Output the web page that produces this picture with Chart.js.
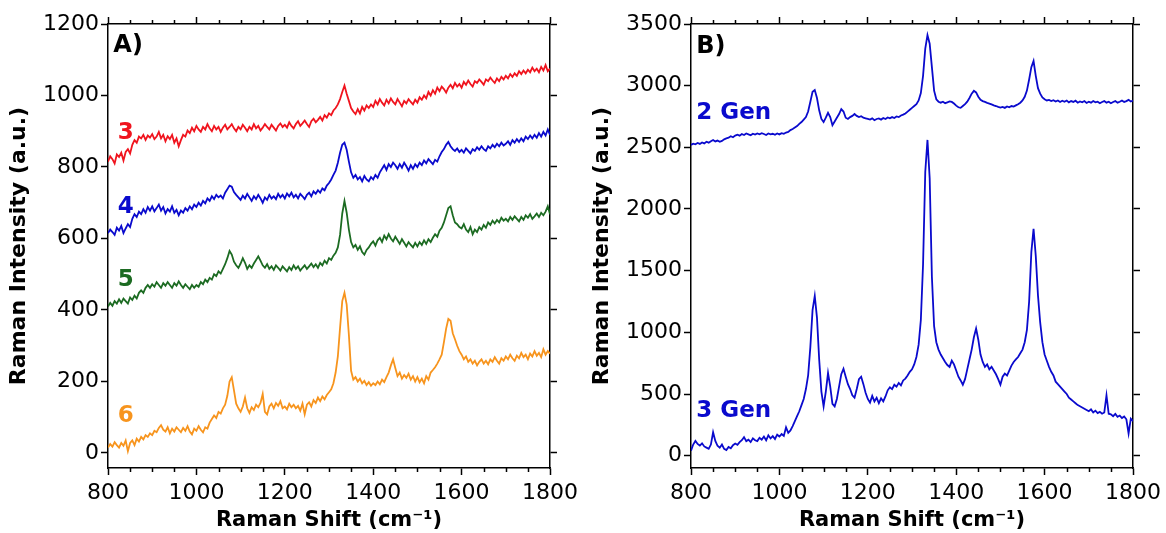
<!DOCTYPE html>
<html>
<head>
<meta charset="utf-8">
<script src="https://cdn.jsdelivr.net/npm/chart.js@4.4.1/dist/chart.umd.min.js"></script>
<style>
  html, body { margin: 0; padding: 0; background: #fff; }
  #wrap { position: relative; width: 1166px; height: 533px; }
  .panel { position: absolute; top: 0; width: 583px; height: 533px; }
  #panelA { left: 0; }
  #panelB { left: 583px; }
</style>
</head>
<body>
<div id="wrap">
  <div class="panel" id="panelA"><canvas id="chartA" width="583" height="533"></canvas></div>
  <div class="panel" id="panelB"><canvas id="chartB" width="583" height="533"></canvas></div>
</div>
<script>
// Raman shift grid, cm-1 (800 .. 1800, every 5)
const shifts = [];
for (let s = 800; s <= 1800; s += 5) shifts.push(s);

// panel A spectra (one row = 100 cm-1)
const spec3 = [
  815,830,822,810,835,828,840,818,842,850,838,862,875,868,885,880,890,876,888,882,
  892,878,885,898,880,890,872,886,878,890,868,880,858,875,890,885,902,895,910,900,
  915,905,898,912,905,920,908,900,915,905,912,898,910,918,905,912,920,908,900,912,
  905,918,910,900,912,905,920,908,915,902,910,920,912,905,918,910,902,915,922,912,
  918,910,925,915,908,920,928,915,922,930,920,912,928,935,925,932,940,930,945,938,
  950,945,958,965,975,990,1010,1028,1005,985,965,955,948,962,950,968,958,972,965,975,
  968,985,975,990,980,972,988,978,992,982,975,990,980,970,985,978,990,982,975,988,
  980,995,988,1000,992,1010,1000,1015,1005,1022,1012,1025,1018,1008,1022,1030,1020,1035,1025,1032,
  1022,1038,1030,1042,1032,1025,1040,1035,1045,1038,1030,1045,1040,1050,1042,1035,1048,1040,1052,1045,
  1055,1048,1060,1052,1062,1055,1068,1060,1070,1062,1072,1065,1078,1068,1075,1065,1080,1070,1085,1068,1075
];
const spec4 = [
  615,625,618,610,630,622,635,615,628,640,632,655,668,660,675,668,682,672,688,678,
  690,676,685,695,678,688,670,682,675,690,672,680,665,678,672,685,678,690,682,695,
  688,700,692,705,698,712,705,718,710,722,715,720,712,728,738,748,745,730,722,715,
  708,720,712,725,715,705,718,710,722,712,700,715,708,722,712,718,710,725,715,722,
  712,726,718,728,715,722,712,725,718,710,722,728,718,732,725,735,728,740,735,748,
  755,765,778,790,812,840,862,868,848,815,785,770,778,765,772,760,775,765,760,772,
  765,778,770,785,795,805,792,808,800,812,805,795,808,798,812,802,790,805,795,808,
  800,812,805,818,810,822,815,808,820,815,830,842,850,862,870,858,850,845,852,842,
  848,840,852,845,838,850,845,855,848,858,850,845,858,852,862,855,865,858,868,860,
  865,872,862,875,868,878,870,880,872,885,878,888,880,890,882,895,885,898,888,905,890
];
const spec5 = [
  410,420,412,425,418,430,420,432,425,418,435,428,440,432,448,455,448,462,470,462,
  472,465,478,470,462,475,468,478,470,462,475,468,480,470,462,472,465,458,470,462,
  470,465,478,472,485,478,490,485,500,495,508,502,515,528,545,565,555,535,525,518,
  530,545,532,515,525,518,530,540,550,538,525,518,528,515,522,512,525,518,510,522,
  515,508,520,512,525,515,522,510,518,525,515,522,530,520,528,518,532,525,538,530,
  545,540,552,560,575,610,670,705,672,625,590,575,582,568,578,562,555,568,575,585,
  592,580,595,602,590,608,598,612,600,592,605,595,585,598,588,578,590,582,575,588,
  578,590,582,595,585,598,590,602,612,605,622,630,645,665,685,690,665,645,640,632,
  628,640,625,618,632,612,625,618,632,625,638,630,645,638,650,642,652,645,658,650,
  655,648,660,652,662,655,648,660,652,665,658,668,655,662,670,660,672,665,675,690,668
];
const spec6 = [
  15,25,18,30,22,15,28,20,35,5,28,35,22,40,32,45,38,50,45,55,
  50,62,58,70,78,65,60,72,55,68,60,72,65,58,70,62,75,60,52,68,
  62,75,65,58,72,68,85,95,105,98,115,110,125,135,160,200,212,175,138,125,
  115,130,155,125,112,128,120,135,128,140,165,115,108,130,138,125,140,132,145,125,
  130,122,138,128,135,125,132,118,138,108,135,142,130,148,140,155,145,158,150,162,
  170,178,195,225,270,350,425,448,415,330,230,205,212,200,208,195,202,190,198,188,
  195,190,200,192,205,198,212,225,245,262,238,215,225,208,218,210,222,205,215,200,
  212,198,208,195,215,205,225,232,240,250,262,275,310,348,375,370,335,318,300,285,
  275,262,270,255,262,250,258,245,255,262,250,258,248,262,255,268,258,250,265,258,
  270,262,275,265,258,272,265,280,268,275,262,278,270,285,272,280,268,290,275,285,278
];

// panel B spectra
const gen2 = [
  2520,2530,2525,2535,2528,2540,2532,2545,2538,2550,2560,2548,2555,2545,2552,2565,2572,2578,2590,2582,
  2595,2602,2595,2608,2600,2612,2605,2598,2610,2603,2612,2606,2615,2608,2600,2612,2605,2610,2602,2612,
  2605,2615,2610,2620,2625,2640,2648,2660,2672,2690,2705,2725,2745,2790,2870,2950,2965,2900,2800,2730,
  2705,2740,2780,2745,2680,2710,2740,2770,2810,2790,2740,2730,2745,2755,2770,2755,2745,2752,2740,2735,
  2730,2725,2735,2720,2730,2735,2725,2738,2730,2742,2735,2745,2738,2750,2745,2758,2765,2775,2790,2805,
  2820,2835,2850,2880,2940,3080,3300,3410,3340,3150,2960,2890,2870,2862,2870,2858,2865,2872,2868,2855,
  2838,2825,2820,2835,2850,2870,2900,2935,2958,2945,2910,2885,2875,2868,2860,2855,2848,2840,2835,2828,
  2822,2828,2820,2832,2825,2835,2830,2840,2850,2862,2880,2910,2960,3050,3150,3200,3080,2980,2935,2905,
  2890,2880,2885,2875,2882,2872,2880,2868,2878,2870,2880,2865,2875,2868,2878,2862,2872,2865,2875,2860,
  2870,2862,2875,2865,2870,2858,2868,2875,2862,2870,2858,2868,2875,2862,2870,2880,2868,2875,2885,2872,2880
];
const gen3 = [
  40,90,120,95,82,100,75,65,55,90,190,120,80,65,90,55,45,70,60,85,
  98,88,110,125,150,118,130,110,140,125,118,145,130,155,125,165,140,158,135,170,
  155,175,160,230,185,205,240,280,320,360,410,460,540,650,880,1180,1295,1120,780,520,
  400,520,670,560,420,400,460,560,660,705,640,580,540,490,470,540,620,640,580,510,
  460,430,485,440,470,425,465,440,480,530,555,540,575,560,590,570,610,625,650,680,
  700,740,800,900,1100,1550,2300,2560,2250,1450,1050,920,860,820,790,760,735,720,770,740,
  690,640,610,575,620,700,780,860,960,1030,940,820,760,720,740,700,720,690,660,620,
  575,640,665,650,690,730,760,780,800,830,860,920,1020,1250,1650,1840,1620,1300,1080,920,
  820,770,720,680,650,600,580,560,540,520,500,470,455,440,425,410,400,390,380,370,
  360,375,350,365,345,355,340,350,490,340,335,320,338,315,325,305,318,295,180,300,280
];

const xMajor = [800, 1000, 1200, 1400, 1600, 1800];
const xMinor = [850, 900, 950, 1050, 1100, 1150, 1250, 1300, 1350, 1450, 1500, 1550, 1650, 1700, 1750];
const yTicksA = [0, 200, 400, 600, 800, 1000, 1200];
const yTicksB = [0, 500, 1000, 1500, 2000, 2500, 3000, 3500];

const FONT = "'DejaVu Sans', sans-serif";
const RED = '#f0141e', BLUE = '#0a0acd', GREEN = '#1c6b22', ORANGE = '#f7941d';

const labelsA = [
  { text: 'A)', x: 812, y: 1138, color: '#000', size: 24 },
  { text: '3', x: 822, y: 895, color: RED, size: 23 },
  { text: '4', x: 822, y: 688, color: BLUE, size: 23 },
  { text: '5', x: 822, y: 484, color: GREEN, size: 23 },
  { text: '6', x: 822, y: 102, color: ORANGE, size: 23 }
];
const labelsB = [
  { text: 'B)', x: 812, y: 3315, color: '#000', size: 24 },
  { text: '2 Gen', x: 812, y: 2775, color: BLUE, size: 23 },
  { text: '3 Gen', x: 812, y: 365, color: BLUE, size: 23 }
];

const toPoints = arr => shifts.map((s, i) => ({ x: s, y: arr[i] }));

// minor ticks on top and bottom x axes + panel labels
const extras = {
  id: 'extras',
  afterDraw(chart) {
    const ctx = chart.ctx;
    const a = chart.chartArea;
    const xs = chart.scales.x;
    const ys = chart.scales.y;
    ctx.save();
    ctx.strokeStyle = '#000';
    ctx.lineWidth = 1.5;
    ctx.beginPath();
    xMinor.forEach(v => {
      const px = Math.round(xs.getPixelForValue(v)) + 0.5;
      ctx.moveTo(px, a.bottom); ctx.lineTo(px, a.bottom + 4);
      ctx.moveTo(px, a.top); ctx.lineTo(px, a.top - 4);
    });
    ctx.stroke();
    ctx.textAlign = 'left';
    ctx.textBaseline = 'middle';
    chart.options.plugins.extras.labels.forEach(l => {
      ctx.fillStyle = l.color;
      ctx.font = 'bold ' + l.size + 'px ' + FONT;
      ctx.fillText(l.text, xs.getPixelForValue(l.x), ys.getPixelForValue(l.y));
    });
    ctx.restore();
  }
};

function axisSet(yMin, yMax, yTicks) {
  const tickGrid = { display: true, drawOnChartArea: false, drawTicks: true, tickLength: 7, tickWidth: 1.5, tickColor: '#000' };
  const border = { display: true, color: '#000', width: 1.5 };
  const tickFont = { family: FONT, size: 22 };
  const plain = v => String(v);
  const xt = s => { s.ticks = xMajor.map(v => ({ value: v })); };
  const yt = s => { s.ticks = yTicks.map(v => ({ value: v })); };
  return {
    x: {
      type: 'linear', position: 'bottom', min: 800, max: 1800,
      afterBuildTicks: xt, afterFit: s => { s.height = 65; },
      grid: tickGrid, border: border,
      ticks: { color: '#000', font: tickFont, padding: 5, maxRotation: 0, autoSkip: false, callback: plain },
      title: { display: true, text: 'Raman Shift (cm\u207B\u00B9)', color: '#000',
               font: { family: FONT, size: 21, weight: 'bold' }, padding: { top: 0, bottom: 0 } }
    },
    xTop: {
      type: 'linear', position: 'top', min: 800, max: 1800,
      afterBuildTicks: xt, afterFit: s => { s.height = 24; },
      grid: tickGrid, border: border, ticks: { display: false }
    },
    y: {
      type: 'linear', position: 'left', min: yMin, max: yMax,
      afterBuildTicks: yt, afterFit: s => { s.width = 108; },
      grid: tickGrid, border: border,
      ticks: { color: '#000', font: tickFont, padding: 2, callback: plain },
      title: { display: true, text: 'Raman Intensity (a.u.)', color: '#000',
               font: { family: FONT, size: 22, weight: 'bold' }, padding: { top: 6, bottom: 0 } }
    },
    yRight: {
      type: 'linear', position: 'right', min: yMin, max: yMax,
      afterBuildTicks: yt, afterFit: s => { s.width = 30; },
      grid: tickGrid, border: border, ticks: { display: false }
    }
  };
}

function line(data, color) {
  return { data: toPoints(data), borderColor: color, borderWidth: 1.8, pointRadius: 0,
           tension: 0, fill: false, xAxisID: 'x', yAxisID: 'y' };
}

Chart.defaults.font.family = FONT;

new Chart(document.getElementById('chartA'), {
  type: 'line',
  data: { datasets: [line(spec3, RED), line(spec4, BLUE), line(spec5, GREEN), line(spec6, ORANGE)] },
  options: {
    responsive: false, animation: false, devicePixelRatio: 1,
    layout: { padding: 0 },
    plugins: { legend: { display: false }, tooltip: { enabled: false }, extras: { labels: labelsA } },
    scales: axisSet(-42, 1200, yTicksA)
  },
  plugins: [extras]
});

new Chart(document.getElementById('chartB'), {
  type: 'line',
  data: { datasets: [line(gen2, BLUE), line(gen3, BLUE)] },
  options: {
    responsive: false, animation: false, devicePixelRatio: 1,
    layout: { padding: 0 },
    plugins: { legend: { display: false }, tooltip: { enabled: false }, extras: { labels: labelsB } },
    scales: axisSet(-100, 3500, yTicksB)
  },
  plugins: [extras]
});
</script>
</body>
</html>
